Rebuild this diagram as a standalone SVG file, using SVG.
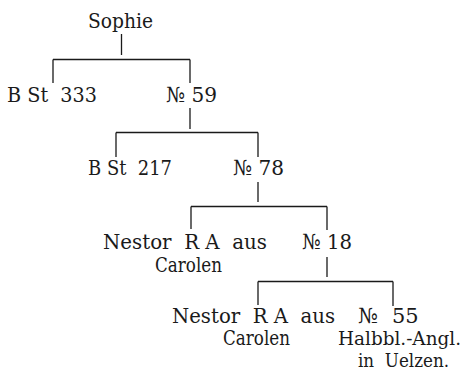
<svg xmlns="http://www.w3.org/2000/svg" width="464" height="370" viewBox="0 0 464 370" xml:space="preserve">
<style>
text{font-family:"DejaVu Serif","Liberation Serif",serif;font-size:21px;fill:#1a1a1a;white-space:pre}
.c line{stroke:#1a1a1a;stroke-width:1.3}
.sm{font-size:18.5px}
</style>
<rect width="464" height="370" fill="#fff"/>
<g class="c" id="connectors">
<line x1="121.5" y1="34" x2="121.5" y2="55"/>
<line x1="53" y1="59.5" x2="190" y2="59.5"/>
<line x1="53" y1="59.5" x2="53" y2="83"/>
<line x1="190" y1="59.5" x2="190" y2="83"/>
<line x1="190" y1="108" x2="190" y2="129"/>
<line x1="116" y1="132.5" x2="258" y2="132.5"/>
<line x1="116" y1="132.5" x2="116" y2="157"/>
<line x1="258" y1="132.5" x2="258" y2="157"/>
<line x1="258" y1="182" x2="258" y2="202"/>
<line x1="191" y1="206.5" x2="327" y2="206.5"/>
<line x1="191" y1="206.5" x2="191" y2="229"/>
<line x1="327" y1="206.5" x2="327" y2="230"/>
<line x1="327" y1="257" x2="327" y2="277"/>
<line x1="258" y1="281.5" x2="393" y2="281.5"/>
<line x1="258" y1="281.5" x2="258" y2="305"/>
<line x1="393" y1="281.5" x2="393" y2="306"/>
</g>
<g id="sophie"><text x="88" y="28" textLength="65" lengthAdjust="spacingAndGlyphs">Sophie</text></g>
<g id="bst333"><text x="7" y="101.5" textLength="90" lengthAdjust="spacingAndGlyphs">B St  333</text></g>
<g id="n59"><text x="166" y="101.5" textLength="51" lengthAdjust="spacingAndGlyphs">№ 59</text></g>
<g id="bst217"><text x="88" y="174.5" textLength="84" lengthAdjust="spacingAndGlyphs">B St  217</text></g>
<g id="n78"><text x="233" y="174.5" textLength="51" lengthAdjust="spacingAndGlyphs">№ 78</text></g>
<g id="nestor1"><text x="103" y="249" textLength="164" lengthAdjust="spacingAndGlyphs">Nestor  R A  aus</text><text x="155" y="271.5" textLength="67" lengthAdjust="spacingAndGlyphs">Carolen</text></g>
<g id="n18"><text x="302" y="249" textLength="50" lengthAdjust="spacingAndGlyphs">№ 18</text></g>
<g id="nestor2"><text x="172" y="323" textLength="163" lengthAdjust="spacingAndGlyphs">Nestor  R A  aus</text><text x="223" y="345" textLength="67" lengthAdjust="spacingAndGlyphs">Carolen</text></g>
<g id="n55"><text x="358" y="323">№<tspan x="392">55</tspan></text><text class="sm" x="338" y="344.5" textLength="123" lengthAdjust="spacingAndGlyphs">Halbbl.-Angl.</text><text class="sm" x="358" y="366.5" textLength="91" lengthAdjust="spacingAndGlyphs">in  Uelzen.</text></g>
</svg>
